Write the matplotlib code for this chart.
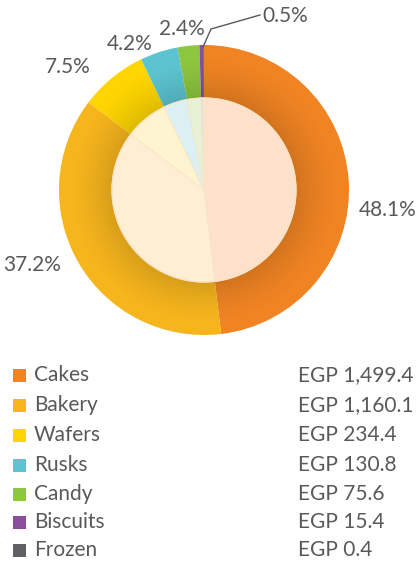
import matplotlib.pyplot as plt
import numpy as np
from matplotlib.patches import Circle, Rectangle

categories = ['Cakes', 'Bakery', 'Wafers', 'Rusks', 'Candy', 'Biscuits', 'Frozen']
values = [1499.4, 1160.1, 234.4, 130.8, 75.6, 15.4, 0.4]
value_labels = ['EGP 1,499.4', 'EGP 1,160.1', 'EGP 234.4', 'EGP 130.8',
                'EGP 75.6', 'EGP 15.4', 'EGP 0.4']
pct_labels = ['48.1%', '37.2%', '7.5%', '4.2%', '2.4%', '0.5%', '']

colors = ['#F08423', '#F6B51D', '#FDD500', '#5CC4D0', '#8DC63F', '#8B4E9C', '#606165']
light = ['#FDE1CA', '#FEEED4', '#FFF3D0', '#DCF0F3', '#E6F1D6', '#E5D8EA', '#DDDDDD']
txt = '#58595B'

plt.rcParams['font.family'] = ['Lato', 'DejaVu Sans']

W, H = 416, 562
fig = plt.figure(figsize=(W / 100, H / 100), dpi=100)

cx, cy, R = 204, 190, 145
ax = fig.add_axes([(cx - R) / W, (H - cy - R) / H, 2 * R / W, 2 * R / H])

rin = 92 / 145

# outer ring
ax.pie(values, colors=colors, startangle=90, counterclock=False,
       radius=1.0, wedgeprops=dict(linewidth=0))

# inner shadow on the ring
n = 400
xs = np.linspace(-1, 1, n)
X, Y = np.meshgrid(xs, xs)
rr = np.sqrt(X ** 2 + Y ** 2)
t = np.clip((rr - rin) / 0.3, 0, 1)
alpha = 0.13 * (1 - t) ** 1.5
alpha[rr < rin] = 0
img = np.zeros((n, n, 4))
img[..., 3] = alpha
im = ax.imshow(img, extent=[-1, 1, -1, 1], origin='lower', zorder=2,
               interpolation='bilinear')
im.set_clip_path(Circle((0, 0), 1.0, transform=ax.transData))

# inner light pie
ax.pie(values, colors=light, startangle=90, counterclock=False, radius=rin,
       wedgeprops=dict(linewidth=0.6, edgecolor='#F8E6C8', zorder=3))
ax.add_patch(Circle((0, 0), rin, fill=False, lw=1.0, ec='#F6E3C6', zorder=4))

ax.set_xlim(-1, 1)
ax.set_ylim(-1, 1)
ax.axis('off')

# percentage labels
fs = 15
label_pos = [(388, 210), (32, 265), (68, 67), (130, 44), (182, 29)]
for lab, (x, y) in zip(pct_labels[:5], label_pos):
    fig.text(x / W, 1 - y / H, lab, ha='center', va='center', fontsize=fs, color=txt)

fig.add_artist(plt.Line2D([203 / W, 211 / W, 260 / W],
                          [1 - 47 / H, 1 - 29 / H, 1 - 15 / H], color=txt, lw=1.0))
fig.text(262 / W, 1 - 16 / H, pct_labels[5], ha='left', va='center', fontsize=fs, color=txt)

# legend
rows = [375, 405, 435, 465, 494, 522, 550]
for c, name, v, y in zip(colors, categories, value_labels, rows):
    fig.add_artist(Rectangle((13 / W, 1 - (y + 6.5) / H), 13 / W, 13 / H,
                             facecolor=c, edgecolor='none'))
    fig.text(34 / W, 1 - y / H, name, ha='left', va='center', fontsize=fs, color=txt)
    fig.text(298 / W, 1 - y / H, v, ha='left', va='center', fontsize=fs, color=txt)

fig.savefig('out.png', dpi=100, facecolor='white')
